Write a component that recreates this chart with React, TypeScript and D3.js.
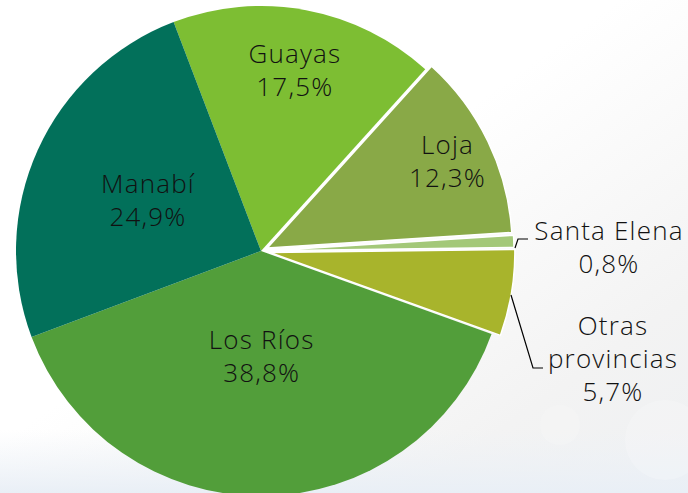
import React from "react";
import * as d3 from "d3";

const categories = ["Guayas", "Loja", "Santa Elena", "Otras provincias", "Los Ríos", "Manabí"];
const values = [17.5, 12.3, 0.8, 5.7, 38.8, 24.9];
const valueLabels = ["17,5%", "12,3%", "0,8%", "5,7%", "38,8%", "24,9%"];
const colors = ["#7DBE33", "#89A947", "#A3C878", "#A8B42C", "#529E3A", "#02705A"];

// layout (not data)
const W = 688, H = 493;
const CX = 261, CY = 251, R = 245;
const START = (-20.9 * Math.PI) / 180;
const explode = [0, 7, 8, 9, 0, 0];
const labelRadius = [184, 200, 0, 0, 105, 124];

export default function App() {
  const pie = d3.pie<number>().sort(null).value((d) => d).startAngle(START).endAngle(START + 2 * Math.PI);
  const arcs = pie(values);
  const arc = d3.arc<d3.PieArcDatum<number>>().innerRadius(0).outerRadius(R);
  const font = "'Century Gothic', 'Open Sans', 'DejaVu Sans', sans-serif";
  const fs = 26;
  const fw = 300;
  const ls = 1.2;

  const offset = (a: d3.PieArcDatum<number>, d: number) => {
    const m = (a.startAngle + a.endAngle) / 2;
    return [Math.sin(m) * d, -Math.cos(m) * d];
  };

  return (
    <svg width={W} height={H} style={{ position: "absolute", left: 0, top: 0 }} fontFamily={font} fontWeight={fw} letterSpacing={ls}>
      <defs>
        <linearGradient id="bg" x1="0" y1="0" x2="1" y2="1">
          <stop offset="0" stopColor="#ffffff" />
          <stop offset="0.45" stopColor="#ffffff" />
          <stop offset="0.8" stopColor="#f3f3f3" />
          <stop offset="1" stopColor="#eef0f2" />
        </linearGradient>
        <linearGradient id="bot" x1="0" y1="0" x2="0" y2="1">
          <stop offset="0" stopColor="#eef2f7" stopOpacity="0" />
          <stop offset="1" stopColor="#e9eff6" stopOpacity="1" />
        </linearGradient>
      </defs>
      <rect width={W} height={H} fill="url(#bg)" />
      <rect x={0} y={430} width={W} height={63} fill="url(#bot)" />
      <circle cx={665} cy={440} r={40} fill="#ffffff" opacity={0.2} />
      <circle cx={560} cy={425} r={20} fill="#ffffff" opacity={0.15} />
      <g transform={`translate(${CX},${CY})`}>
        {arcs.map((a, i) => {
          const [dx, dy] = offset(a, explode[i]);
          return (
            <path
              key={i}
              d={arc(a) || ""}
              transform={`translate(${dx},${dy})`}
              fill={colors[i]}
              stroke={explode[i] ? "#ffffff" : "none"}
              strokeWidth={explode[i] ? 1.5 : 0}
            />
          );
        })}
        {arcs.map((a, i) => {
          if (!labelRadius[i]) return null;
          const [x, y] = offset(a, labelRadius[i] + explode[i]);
          return (
            <text key={"l" + i} textAnchor="middle" fontSize={fs} fill="#111">
              <tspan x={x} y={y - 7}>{categories[i]}</tspan>
              <tspan x={x} y={y + 26}>{valueLabels[i]}</tspan>
            </text>
          );
        })}
      </g>
      {/* Santa Elena outside label */}
      <polyline points="515,248 518,239 528,239" fill="none" stroke="#000" strokeWidth={1.2} />
      <text textAnchor="middle" fontSize={fs} fill="#111">
        <tspan x={609} y={240}>{categories[2]}</tspan>
        <tspan x={609} y={273}>{valueLabels[2]}</tspan>
      </text>
      {/* Otras provincias outside label */}
      <polyline points="511,295 533,368 543,368" fill="none" stroke="#000" strokeWidth={1.2} />
      <text textAnchor="middle" fontSize={fs} fill="#111">
        <tspan x={613} y={335}>Otras</tspan>
        <tspan x={613} y={368}>provincias</tspan>
        <tspan x={613} y={401}>{valueLabels[3]}</tspan>
      </text>
    </svg>
  );
}
